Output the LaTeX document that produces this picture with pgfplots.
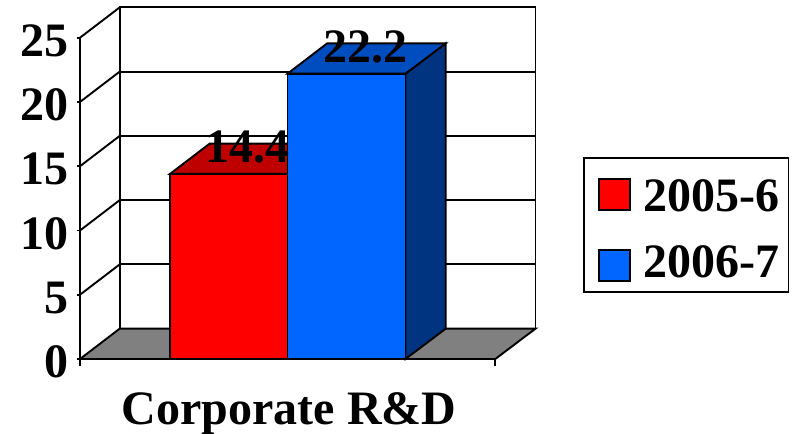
\documentclass[border=0pt]{standalone}
\usepackage{pgfplots}
\pgfplotsset{compat=1.18}
\usepackage{fontspec}
\setmainfont{Liberation Serif}
\definecolor{barred}{HTML}{FF0000}
\definecolor{barredtop}{HTML}{BF0000}
\definecolor{barblue}{HTML}{0066FF}
\definecolor{barbluetop}{HTML}{004DBF}
\definecolor{barblueside}{HTML}{003380}
\definecolor{floorgrey}{HTML}{808080}
\newcommand{\chartfont}{\fontsize{48bp}{52bp}\selectfont\bfseries}
\begin{document}
\begin{tikzpicture}
\path[use as bounding box] (-80bp,-75bp) rectangle (716bp,359bp);
\begin{axis}[
  at={(0,0)}, anchor=south west,
  scale only axis, width=415.3bp, height=321.3bp,
  xmin=80, xmax=495.3, ymin=0, ymax=25,
  clip=false,
  axis x line*=bottom, axis y line*=left,
  axis line style={-, line width=1.9bp, black},
  xtick=\empty,
  ytick={0,5,10,15,20,25},
  tick align=outside, major tick length=3bp,
  tick style={black, line width=1.9bp},
  /pgf/number format/assume math mode=true,
  tick label style={font=\chartfont},
  y tick label style={inner sep=0pt, xshift=-8bp, yshift=-3bp},
  xlabel={Corporate R\&D},
  xlabel style={font=\chartfont, inner sep=0pt, anchor=base,
    at={(axis description cs:0.5036,-0.2023)}},
  legend style={at={(1.2105,0.6278)}, anchor=north west, draw=black,
    line width=1.9bp, fill=white, font=\chartfont, inner xsep=7bp, inner ysep=10.5bp,
    row sep=29bp},
  legend cell align=left,
  every axis plot/.append style={draw=black},
  every axis plot post/.append style={line width=1.9bp},
]
% legend entries: each swatch carries its own padding
\addlegendimage{legend image code/.code={\path (-7bp,0bp) (42bp,0bp);\draw[fill=barred, line width=1.9bp] (0bp,-18.5bp) rectangle (31bp,12.5bp);}}
\addlegendentry{\rule{0pt}{40.5bp}2005-6}
\addlegendimage{legend image code/.code={\path (-7bp,0bp) (42bp,0bp);\draw[fill=barblue, line width=1.9bp] (0bp,-18.5bp) rectangle (31bp,12.5bp);}}
\addlegendentry{2006-7}

% floor of the box
\addplot[fill=floorgrey, forget plot] coordinates {(80,0) (495.3,0) (535.5,2.36) (119.7,2.36)} --cycle;

% back wall: frame and gridlines
\addplot[forget plot] coordinates {(119.7,2.36) (119.7,27.36) (535.5,27.36) (535.5,2.36)};
\addplot[forget plot] coordinates {(119.7,7.36) (535.5,7.36)};
\addplot[forget plot] coordinates {(119.7,12.36) (535.5,12.36)};
\addplot[forget plot] coordinates {(119.7,17.36) (535.5,17.36)};
\addplot[forget plot] coordinates {(119.7,22.36) (535.5,22.36)};

% side wall: gridlines running back from the value axis
\addplot[forget plot] coordinates {(80,5) (119.7,7.36)};
\addplot[forget plot] coordinates {(80,10) (119.7,12.36)};
\addplot[forget plot] coordinates {(80,15) (119.7,17.36)};
\addplot[forget plot] coordinates {(80,20) (119.7,22.36)};
\addplot[forget plot] coordinates {(80,25) (119.7,27.36)};

% category ticks
\addplot[forget plot] coordinates {(80,0) (80,-0.52)};
\addplot[forget plot] coordinates {(495.3,0) (495.3,-0.52)};

% 2005-6 bar
\addplot[fill=barredtop, forget plot] coordinates {(170,14.4) (287.5,14.4) (327.2,16.76) (209.7,16.76)} --cycle;
\addplot[fill=barred, forget plot] coordinates {(170,0) (170,14.4) (287.5,14.4) (287.5,0)} --cycle;

% 2006-7 bar
\addplot[fill=barblueside, forget plot] coordinates {(405.5,0) (405.5,22.2) (445.7,24.56) (445.7,2.36)} --cycle;
\addplot[fill=barbluetop, forget plot] coordinates {(287.5,22.2) (405.5,22.2) (445.7,24.56) (327.2,24.56)} --cycle;
\addplot[fill=barblue, forget plot] coordinates {(287.5,0) (287.5,22.2) (405.5,22.2) (405.5,0)} --cycle;

% value labels
\addplot[draw=none, forget plot, nodes near coords={\pgfmathprintnumber[fixed,fixed zerofill,precision=1]{\pgfplotspointmeta}},
  every node near coord/.append style={font=\chartfont, anchor=base, inner sep=0pt, xshift=0bp, yshift=11bp, black}]
  coordinates {(247.5,14.4) (365.5,22.2)};
\end{axis}
\end{tikzpicture}
\end{document}
